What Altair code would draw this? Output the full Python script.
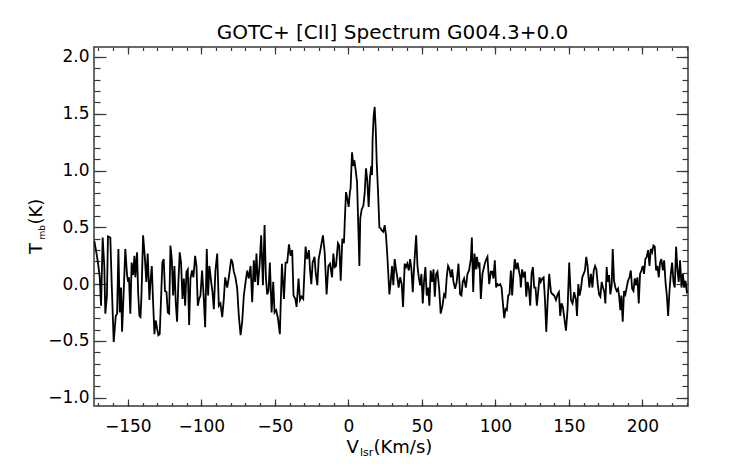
import altair as alt
import pandas as pd

# GOTC+ [CII] spectrum toward G004.3+0.0
# (km/s, K), left wing -> line -> right wing
velocity = [
    # -173 .. -107
    -172.8, -171.4, -170.0, -169.1, -168.2, -167.1, -166.0, -165.3, -164.2, -163.5,
    -161.9, -161.0, -159.6, -158.2, -157.3, -156.4, -155.5, -154.6, -153.9, -152.8,
    -151.7, -150.5, -149.8, -149.2, -148.3, -147.4, -146.4, -145.5, -144.9, -143.7,
    -143.0, -142.1, -141.4, -140.8, -139.6, -138.5, -137.4, -136.5, -135.3, -134.6,
    -133.7, -132.8, -131.9, -131.0, -130.1, -129.2, -128.3, -127.4, -126.5, -125.6,
    -124.7, -123.7, -122.8, -121.9, -121.0, -120.1, -119.2, -118.3, -117.4, -116.5,
    -115.6, -114.7, -113.8, -112.8, -111.9, -111.0, -110.1, -109.2, -108.3, -107.4,
    # -107 .. -39
    -106.3, -105.4, -104.2, -103.3, -102.4, -101.5, -100.6, -99.5, -98.3, -97.4,
    -96.3, -95.4, -94.5, -93.3, -92.4, -91.5, -90.4, -89.2, -88.1, -87.0,
    -85.8, -84.7, -83.8, -82.4, -81.3, -79.7, -78.8, -77.9, -76.8, -75.6,
    -74.5, -73.3, -72.2, -71.1, -69.9, -68.8, -67.7, -66.5, -65.4, -64.3,
    -63.4, -62.5, -61.5, -60.4, -59.3, -58.1, -57.0, -56.1, -55.2, -54.3,
    -53.4, -52.2, -51.1, -50.2, -49.1, -47.9, -46.6, -45.2, -43.8, -42.7,
    -41.6, -40.4, -39.3,
    # -39 .. 29 (emission)
    -38.2, -37.3, -36.1, -35.2, -33.9, -32.9, -31.8, -30.7, -29.1, -28.0,
    -26.8, -26.1, -25.2, -24.3, -23.0, -22.3, -21.1, -20.2, -18.9, -17.3,
    -16.1, -14.8, -13.6, -12.5, -11.1, -10.2, -9.3, -8.4, -7.1, -6.2,
    -5.2, -4.1, -3.0, -2.3, -1.6, -0.7, 0.2, 1.1, 1.5, 2.5,
    3.4, 4.1, 5.0, 5.9, 6.8, 7.5, 8.1, 9.1, 10.2, 11.1,
    12.0, 12.9, 13.8, 14.7, 15.6, 16.1, 16.5, 17.2, 17.9, 18.6,
    19.3, 20.2, 21.1, 22.0, 22.9, 23.8, 24.7, 25.6, 26.5, 27.9,
    28.8,
    # 29 .. 97
    29.7, 30.6, 31.5, 32.4, 33.3, 34.2, 35.2, 36.3, 37.2, 38.3,
    39.2, 40.1, 41.1, 42.0, 42.9, 43.8, 44.7, 46.1, 47.0, 47.9,
    48.8, 49.7, 50.6, 51.5, 52.4, 53.3, 54.2, 55.1, 56.0, 57.0,
    57.9, 58.8, 59.7, 60.6, 61.7, 62.8, 64.0, 65.1, 66.0, 66.9,
    67.8, 68.8, 69.7, 70.6, 71.5, 72.6, 73.7, 74.9, 76.0, 76.9,
    77.8, 78.7, 79.9, 81.0, 82.1, 83.3, 84.0, 84.9, 85.8, 86.7,
    87.4, 88.3, 89.2, 90.1, 91.2, 92.4, 93.5, 94.6, 95.8, 96.9,
    # 97 .. 165
    97.8, 98.7, 99.6, 100.5, 101.4, 102.3, 103.3, 104.2, 105.1, 106.0,
    106.9, 107.8, 108.7, 109.6, 110.5, 111.4, 112.3, 113.2, 114.2, 115.1,
    116.0, 116.9, 117.3, 118.2, 119.1, 120.1, 121.0, 121.9, 122.8, 123.7,
    124.6, 125.5, 126.4, 127.3, 128.2, 129.1, 130.0, 130.9, 131.9, 132.8,
    133.7, 134.6, 135.5, 136.6, 137.8, 138.9, 140.0, 141.2, 142.3, 143.2,
    144.1, 145.0, 145.9, 146.8, 148.0, 149.1, 150.2, 151.4, 152.5, 153.6,
    154.8, 155.5, 156.4, 157.3, 158.2, 159.1, 160.0, 160.9, 161.8, 162.7,
    163.9, 165.0,
    # 165 .. 231
    166.0, 166.9, 167.8, 168.7, 169.6, 170.5, 171.4, 172.3, 173.2, 174.1,
    174.8, 175.7, 176.4, 177.3, 178.2, 179.1, 179.8, 180.7, 181.6, 182.5,
    183.4, 184.1, 185.0, 185.7, 186.6, 187.5, 188.4, 189.3, 190.2, 191.2,
    192.1, 193.0, 193.9, 194.8, 195.7, 196.6, 197.5, 198.4, 199.3, 200.2,
    201.1, 202.0, 202.9, 203.9, 204.8, 205.7, 206.6, 207.5, 208.4, 209.3,
    210.2, 211.1, 212.0, 212.9, 213.9, 214.8, 215.7, 216.6, 217.5, 218.4,
    219.3, 220.2, 221.1, 222.0, 222.9, 223.8, 224.7, 225.6, 226.6, 227.5,
    228.4, 229.3, 230.2, 231.0,
]

tmb = [
    # -173 .. -107
    0.38, 0.28, 0.16, 0.06, -0.19, 0.41, 0.16, -0.26, -0.10, 0.42,
    0.41, 0.02, -0.51, -0.28, -0.26, 0.31, -0.25, -0.03, -0.42, -0.07,
    0.31, 0.08, 0.02, 0.06, -0.26, 0.19, 0.08, 0.25, 0.06, 0.28,
    -0.07, -0.28, -0.29, -0.13, 0.43, 0.25, 0.02, 0.27, -0.14, 0.02,
    0.16, -0.16, -0.44, -0.32, -0.39, -0.45, -0.44, -0.13, 0.19, 0.22,
    -0.06, -0.07, -0.25, -0.26, 0.34, 0.22, -0.10, 0.16, -0.16, -0.33,
    0.02, 0.28, 0.19, -0.13, 0.05, -0.19, 0.11, 0.13, -0.36, 0.05,
    # -107 .. -39
    0.12, 0.06, 0.25, 0.16, -0.19, -0.13, -0.10, 0.12, -0.13, -0.38,
    0.31, -0.10, 0.16, 0.02, -0.07, -0.22, 0.12, 0.27, -0.19, -0.17,
    -0.29, -0.13, 0.06, -0.03, 0.06, 0.22, 0.19, 0.11, 0.06, -0.04,
    -0.28, -0.45, -0.33, -0.10, 0.02, 0.12, 0.05, 0.16, -0.16, 0.21,
    0.02, 0.27, -0.01, 0.16, 0.43, -0.01, 0.52, 0.06, -0.09, -0.06,
    0.19, -0.25, 0.02, -0.25, -0.23, -0.30, -0.44, 0.18, -0.13, 0.19,
    0.19, 0.35, 0.25,
    # -39 .. 29 (emission)
    0.30, -0.10, -0.13, -0.20, 0.05, -0.14, -0.11, -0.13, 0.33, 0.22,
    0.30, 0.13, 0.00, 0.19, 0.24, 0.11, -0.01, 0.22, 0.31, 0.43,
    0.28, -0.09, 0.16, 0.18, 0.06, 0.27, 0.15, 0.16, 0.36, 0.34,
    0.03, 0.40, 0.36, 0.60, 0.81, 0.75, 0.68, 0.82, 0.84, 1.16,
    1.04, 1.09, 1.00, 0.90, 0.49, 0.16, 0.58, 0.66, 0.69, 0.80,
    1.02, 0.91, 0.68, 0.94, 1.04, 0.96, 1.28, 1.48, 1.56, 1.37,
    1.07, 0.81, 0.50, 0.49, 0.47, 0.46, 0.52, 0.43, 0.25, -0.09,
    0.02,
    # 29 .. 97
    0.16, -0.01, 0.22, 0.13, 0.06, -0.03, 0.06, 0.00, -0.20, 0.18,
    0.15, 0.18, 0.12, 0.22, 0.13, -0.07, 0.15, 0.43, 0.16, 0.06,
    -0.01, 0.09, -0.17, 0.03, 0.15, -0.10, -0.03, -0.19, 0.12, 0.02,
    0.13, -0.11, 0.09, 0.11, -0.03, -0.26, -0.19, -0.09, -0.11, 0.06,
    0.16, 0.13, 0.06, 0.13, 0.02, -0.04, 0.02, 0.18, -0.09, -0.10,
    0.02, 0.05, -0.03, 0.09, 0.12, 0.22, 0.41, -0.07, 0.27, 0.13,
    0.24, 0.16, 0.19, -0.13, 0.09, 0.16, 0.21, 0.24, 0.00, 0.11,
    # 97 .. 165
    0.11, 0.05, 0.21, -0.03, 0.00, -0.01, 0.00, -0.03, -0.17, -0.30,
    -0.22, -0.23, -0.10, -0.09, 0.12, -0.10, 0.09, 0.22, 0.13, 0.19,
    0.12, 0.06, -0.03, 0.13, 0.06, 0.11, -0.11, 0.02, -0.04, -0.19,
    0.09, 0.15, -0.03, -0.03, -0.19, -0.07, 0.06, 0.02, 0.05, 0.06,
    -0.13, -0.42, -0.16, 0.09, -0.07, -0.09, -0.10, -0.14, -0.09, -0.07,
    -0.28, -0.17, -0.20, -0.29, -0.41, -0.22, 0.19, -0.14, -0.17, -0.07,
    -0.14, -0.28, 0.00, -0.10, -0.04, 0.06, 0.09, 0.12, 0.24, 0.16,
    -0.03, 0.09,
    # 165 .. 231
    -0.03, 0.12, 0.16, 0.13, 0.00, -0.09, -0.11, 0.02, -0.03, -0.07,
    -0.17, 0.15, 0.02, 0.08, -0.09, -0.01, 0.31, 0.03, -0.03, -0.06,
    -0.04, -0.10, -0.23, -0.10, -0.33, -0.06, -0.09, -0.03, 0.03, 0.06,
    0.12, -0.04, -0.06, 0.05, -0.01, 0.06, -0.17, 0.09, 0.12, 0.16,
    0.09, 0.22, 0.24, 0.30, 0.16, 0.31, 0.28, 0.34, 0.33, 0.12,
    0.16, 0.06, 0.19, 0.22, 0.12, 0.21, 0.02, -0.10, -0.28, -0.06,
    0.09, 0.19, 0.02, -0.03, 0.33, 0.13, 0.02, 0.21, -0.03, 0.09,
    -0.03, 0.03, -0.07, -0.06,
]

x_major = [-150, -100, -50, 0, 50, 100, 150, 200]
x_minor = list(range(-170, 231, 10))
y_major = [-1.0, -0.5, 0.0, 0.5, 1.0, 1.5, 2.0]
y_minor = [round(0.1 * i, 1) for i in range(-10, 21)]

W, H = 594, 359
FONT = "DejaVu Sans"
INK = "#383838"

assert len(velocity) == len(tmb), (len(velocity), len(tmb))
df = pd.DataFrame({"v": velocity, "t": tmb})

xs = alt.Scale(domain=[-173, 231], nice=False, zero=False)
ys = alt.Scale(domain=[-1.073, 2.088], nice=False, zero=False)


def tick_axis(orient, values, size, **labels):
    # IDL style: ticks point into the plot, so pull the axis in by its tick length
    opts = dict(orient=orient, values=values, tickSize=size, offset=-size,
                domain=False, grid=False, title=None, tickColor=INK, tickWidth=1.2)
    if labels:
        opts.update(labelFont=FONT, labelFontSize=17, labelColor="black",
                    labelFlush=False, labelOverlap=False, **labels)
    else:
        opts["labels"] = False
    return alt.Axis(**opts)


def piece(text, x, y, size, angle=0, align="left"):
    return (
        alt.Chart(pd.DataFrame({"s": [text]}))
        .mark_text(font=FONT, fontSize=size, align=align, baseline="alphabetic",
                   angle=angle, color="black")
        .encode(x=alt.value(x), y=alt.value(y), text="s:N")
    )


base = alt.Chart(df)

spectrum = base.mark_line(color="black", strokeWidth=1.8, clip=True).encode(
    x=alt.X("v:Q", scale=xs,
            axis=tick_axis("bottom", x_major, 7, format="d",
                           labelBaseline="alphabetic", labelPadding=25)),
    y=alt.Y("t:Q", scale=ys,
            axis=tick_axis("left", y_major, 12, format=".1f", labelPadding=5)),
)

minor_bl = base.mark_line(opacity=0).encode(
    x=alt.X("v:Q", scale=xs, axis=tick_axis("bottom", x_minor, 3.5)),
    y=alt.Y("t:Q", scale=ys, axis=tick_axis("left", y_minor, 6)),
)
major_tr = base.mark_line(opacity=0).encode(
    x=alt.X("v:Q", scale=xs, axis=tick_axis("top", x_major, 7)),
    y=alt.Y("t:Q", scale=ys, axis=tick_axis("right", y_major, 12)),
)
minor_tr = base.mark_line(opacity=0).encode(
    x=alt.X("v:Q", scale=xs, axis=tick_axis("top", x_minor, 3.5)),
    y=alt.Y("t:Q", scale=ys, axis=tick_axis("right", y_minor, 6)),
)

texts = [
    piece("GOTC+ [CII] Spectrum G004.3+0.0", 298.5, -8.3, 20, align="center"),
    piece("V", 252.5, 405.5, 18),
    piece("lsr", 266.0, 409.0, 11),
    piece("(Km/s)", 279.5, 405.5, 18),
    piece("T", -52.3, 207.0, 18, angle=270),
    piece("mb", -49.0, 192.5, 9, angle=270),
    piece("(K)", -52.3, 177.5, 18, angle=270),
]

chart = (
    alt.layer(spectrum, minor_bl, major_tr, minor_tr, *texts)
    .resolve_axis(x="independent", y="independent")
    .properties(
        width=W,
        height=H,
        autosize=alt.AutoSizeParams(type="none"),
        padding={"left": 86, "top": 39, "right": 40, "bottom": 56},
        background="white",
    )
    .configure_view(stroke=INK, strokeWidth=1.5)
)

chart.save("out.html", embed_options={"renderer": "svg", "actions": False})
